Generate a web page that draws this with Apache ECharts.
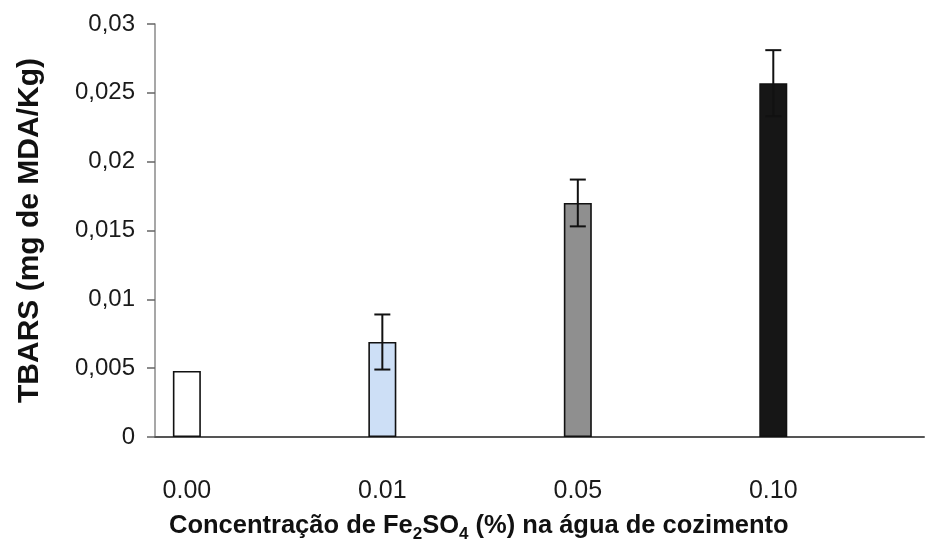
<!DOCTYPE html>
<html>
<head>
<meta charset="utf-8">
<script src="https://cdn.jsdelivr.net/npm/echarts@6/dist/echarts.min.js"></script>
<style>
  html, body { margin: 0; padding: 0; background: #fff; }
  #chart { width: 926px; height: 544px; }
</style>
</head>
<body>
<div id="chart"></div>
<script>
// Fe2SO4 concentration in the cooking water (%)
const categories = ['0.00', '0.01', '0.05', '0.10'];
// TBARS means (mg MDA/Kg)
const tbars = [0.0048, 0.0069, 0.0170, 0.0257];
// standard deviations (0 = no error bar drawn)
const errors = [0, 0.0020, 0.0017, 0.0024];
// y-axis tick values
const yTicks = [0, 0.005, 0.01, 0.015, 0.02, 0.025, 0.03];

const fills = ['#ffffff', '#cddff6', '#8f8f8f', '#161616'];
const FONT = '"Liberation Sans", Arial, Helvetica, sans-serif';

const chart = echarts.init(document.getElementById('chart'), null, { renderer: 'canvas' });

const barData = tbars.map((v, i) => ({
  value: [i, v],
  itemStyle: { color: fills[i] }
}));

const errData = tbars
  .map((v, i) => [i, v - errors[i], v + errors[i], errors[i]])
  .filter(d => d[3] > 0);

chart.setOption({
  backgroundColor: '#ffffff',
  animation: false,
  title: {
    text: 'Concentração de Fe{sub|2}SO{sub|4} (%) na água de cozimento',
    left: 164,
    top: 508,
    textStyle: {
      fontFamily: FONT,
      fontSize: 25.5,
      fontWeight: 'bold',
      color: '#111',
      rich: {
        sub: {
          fontFamily: FONT,
          fontSize: 17,
          fontWeight: 'bold',
          color: '#111',
          verticalAlign: 'bottom',
          padding: [0, 0, -4, 0]
        }
      }
    }
  },
  grid: { left: 155, right: 2, top: 24, bottom: 107, containLabel: false },
  xAxis: {
    type: 'value',
    min: -0.163,
    max: 3.771,
    splitLine: { show: false },
    axisLine: { show: true, onZero: false, lineStyle: { color: '#555', width: 2 } },
    axisTick: { show: false },
    axisLabel: {
      customValues: categories.map((c, i) => i),
      formatter: v => categories[Math.round(v)],
      fontFamily: FONT,
      fontSize: 25,
      color: '#1a1a1a',
      margin: 42
    }
  },
  yAxis: {
    type: 'value',
    min: yTicks[0],
    max: yTicks[yTicks.length - 1],
    interval: yTicks[1] - yTicks[0],
    name: 'TBARS (mg de MDA/Kg)',
    nameLocation: 'middle',
    nameGap: 110,
    nameRotate: 90,
    nameTextStyle: {
      fontFamily: FONT,
      fontSize: 30,
      fontWeight: 'bold',
      color: '#111'
    },
    splitLine: { show: false },
    axisLine: { show: true, onZero: false, lineStyle: { color: '#8a8a8a', width: 1.5 } },
    axisTick: { show: true, length: 8, inside: false, lineStyle: { color: '#666', width: 1.5 } },
    axisLabel: {
      formatter: v => String(+v.toFixed(3)).replace('.', ','),
      fontFamily: FONT,
      fontSize: 24,
      color: '#1a1a1a',
      margin: 20
    }
  },
  series: [
    {
      type: 'bar',
      data: barData,
      barWidth: 28,
      itemStyle: { borderColor: '#111', borderWidth: 1.6 },
      z: 2
    },
    {
      type: 'custom',
      z: 3,
      data: errData,
      renderItem: (params, api) => {
        const x = api.coord([api.value(0), 0])[0];
        const lo = api.coord([api.value(0), api.value(1)])[1];
        const hi = api.coord([api.value(0), api.value(2)])[1];
        const cap = 8;
        const style = { stroke: '#111', lineWidth: 2 };
        return {
          type: 'group',
          children: [
            { type: 'line', shape: { x1: x, y1: hi, x2: x, y2: lo }, style },
            { type: 'line', shape: { x1: x - cap, y1: hi, x2: x + cap, y2: hi }, style },
            { type: 'line', shape: { x1: x - cap, y1: lo, x2: x + cap, y2: lo }, style }
          ]
        };
      }
    }
  ]
});
</script>
</body>
</html>
